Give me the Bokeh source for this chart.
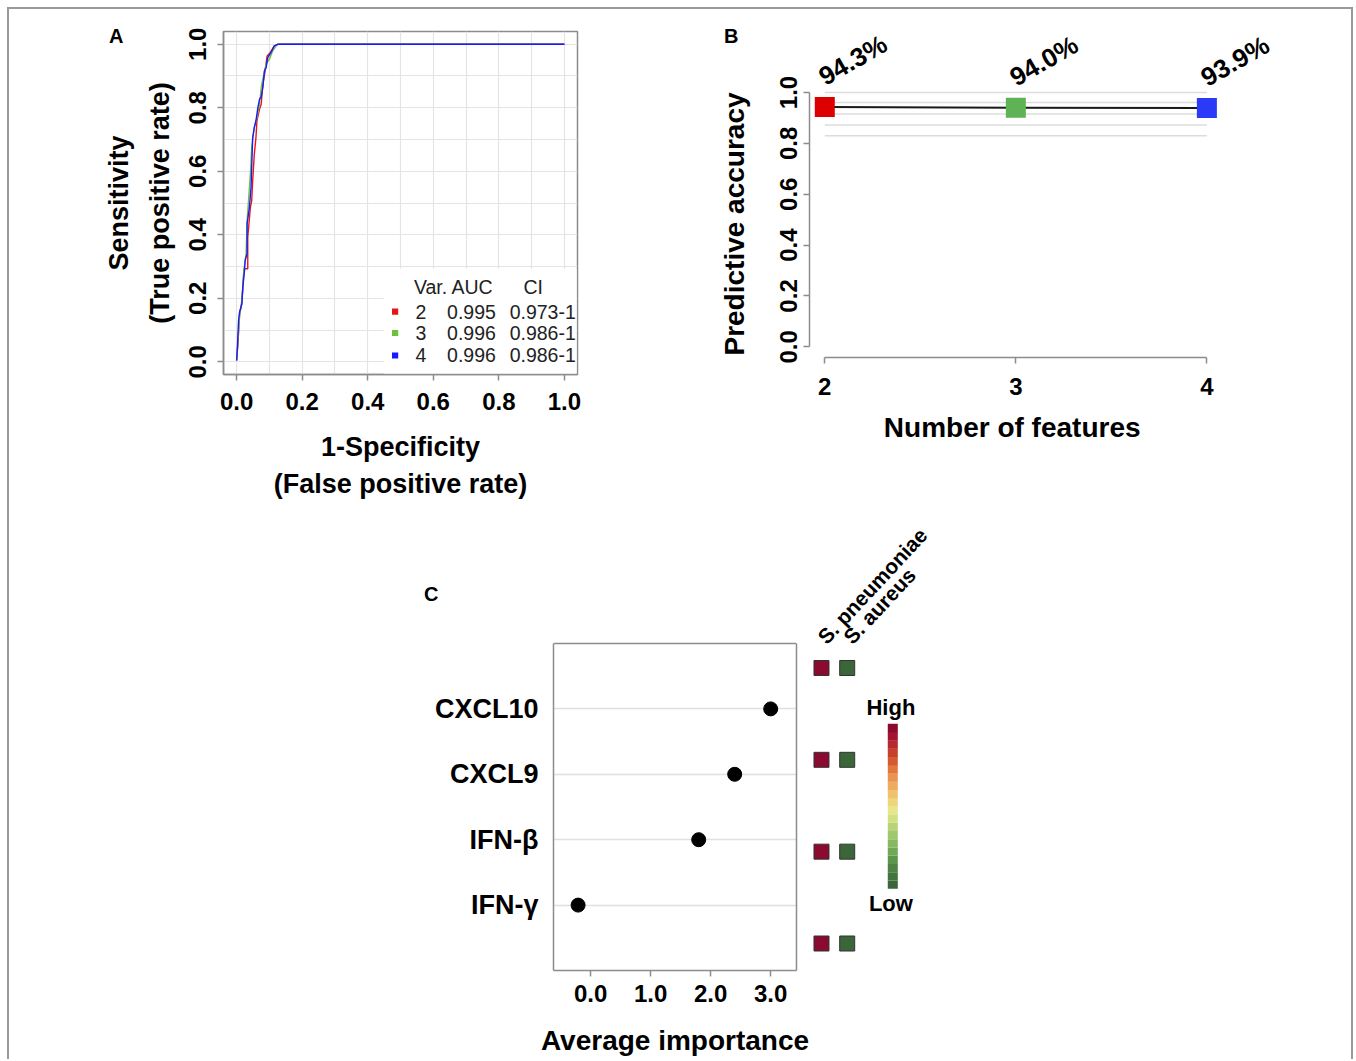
import numpy as np
from bokeh.plotting import figure
from bokeh.models import (Range1d, FixedTicker, Label, BoxAnnotation, ColumnDataSource,
                          Spacer, NumeralTickFormatter, LinearAxis)
from bokeh.layouts import row, column
from bokeh.embed import file_html
from bokeh.resources import INLINE
from bokeh.core.properties import value
from bokeh.transform import linear_cmap

FONT = "Liberation Sans"
NBSP = "\u00a0"

# ---------------- Panel A: ROC curves ----------------
roc_fpr_2 = [0.0, 0.004, 0.009, 0.016, 0.022, 0.024, 0.034, 0.034, 0.042, 0.046, 0.049, 0.054,
             0.059, 0.062, 0.070, 0.075, 0.080, 0.087, 0.093, 0.103, 0.115, 0.128, 1.0]
roc_tpr_2 = [0.004, 0.057, 0.151, 0.186, 0.283, 0.293, 0.293, 0.392, 0.486, 0.507, 0.570, 0.654,
             0.706, 0.759, 0.796, 0.811, 0.874, 0.916, 0.963, 0.974, 0.995, 1.0, 1.0]
roc_fpr_3 = [0.0, 0.004, 0.009, 0.016, 0.022, 0.029, 0.032, 0.037, 0.042, 0.046, 0.054, 0.062,
             0.070, 0.075, 0.083, 0.090, 0.100, 0.110, 0.121, 0.128, 1.0]
roc_tpr_3 = [0.004, 0.067, 0.141, 0.194, 0.288, 0.341, 0.444, 0.518, 0.591, 0.675, 0.738, 0.769,
             0.811, 0.864, 0.906, 0.937, 0.953, 0.979, 0.995, 1.0, 1.0]
roc_fpr_4 = [0.0, 0.002, 0.006, 0.009, 0.016, 0.019, 0.024, 0.026, 0.032, 0.032, 0.039, 0.044,
             0.049, 0.054, 0.059, 0.065, 0.070, 0.075, 0.080, 0.085, 0.090, 0.095, 0.105, 0.115,
             0.126, 1.0]
roc_tpr_4 = [0.004, 0.036, 0.130, 0.156, 0.182, 0.235, 0.287, 0.319, 0.340, 0.434, 0.486, 0.549,
             0.706, 0.738, 0.759, 0.801, 0.827, 0.834, 0.864, 0.916, 0.926, 0.958, 0.974, 0.995,
             1.0, 1.0]
roc_vars = ["2", "3", "4"]
roc_auc = ["0.995", "0.996", "0.996"]
roc_ci = ["0.973-1", "0.986-1", "0.986-1"]
roc_colors = ["#e8141c", "#6cc23a", "#1a1aff"]

# ---------------- Panel B: accuracy ----------------
n_features = [2, 3, 4]
accuracy = [0.943, 0.940, 0.939]
acc_colors = ["#dc0000", "#5fb255", "#2b3af7"]
ref_levels = [1.0, 0.961, 0.915, 0.872, 0.830]

# ---------------- Panel C: importance ----------------
genes = ["CXCL10", "CXCL9", "IFN-β", "IFN-γ"]
importance = [3.0, 2.40, 1.80, -0.21]

# ---------------- Heat strip ----------------
species = ["S. pneumoniae", "S. aureus"]
heat_pneumoniae = [1, 1, 1, 1]
heat_aureus = [0, 0, 0, 0]
heat_palette = ["#3a663a", "#42743f", "#4d8445", "#5c964d", "#70a858", "#86b962", "#9fc86c",
                "#b9d478", "#d2e084", "#e6e68a", "#eed67e", "#f0c270", "#eeac62", "#e89550",
                "#e07840", "#d65a30", "#c8402c", "#b8282c", "#a3142e", "#8b0a30"]

GREY = "#8c8c8c"


def style_axes(p, tick_size="24px", label_size="28px"):
    for ax in p.axis:
        ax.major_label_text_font = FONT
        ax.major_label_text_font_style = "bold"
        ax.major_label_text_font_size = tick_size
        ax.major_label_text_color = "black"
        ax.axis_label_text_font = FONT
        ax.axis_label_text_font_style = "bold"
        ax.axis_label_text_font_size = label_size
        ax.axis_label_text_color = "black"
        ax.minor_tick_line_color = None
        ax.major_tick_in = 0
        ax.major_tick_out = 6
        ax.major_tick_line_color = GREY
        ax.major_tick_line_width = 1.5
        ax.axis_line_color = GREY
        ax.axis_line_width = 1.5


def panel_tag(p, text, yval, standoff):
    ax = LinearAxis(ticker=FixedTicker(ticks=[yval]), major_label_overrides={yval: text},
                    axis_line_color=None, major_tick_line_color=None, minor_tick_line_color=None,
                    major_label_standoff=standoff, major_label_orientation="horizontal",
                    major_label_text_font=FONT, major_label_text_font_style="bold",
                    major_label_text_font_size="20px", major_label_text_color="black")
    p.add_layout(ax, "left")


# ======== Figure A ========
pA = figure(width=700, height=500, x_range=Range1d(-0.04, 1.04), y_range=Range1d(-0.04, 1.04),
            output_backend="svg", toolbar_location=None,
            min_border_left=214, min_border_right=132, min_border_top=22, min_border_bottom=135)
pA.outline_line_color = GREY
pA.outline_line_width = 1.5
major = [0.0, 0.2, 0.4, 0.6, 0.8, 1.0]
minor = [0.1, 0.3, 0.5, 0.7, 0.9]
for ax in (pA.xaxis, pA.yaxis):
    ax.ticker = FixedTicker(ticks=major, minor_ticks=minor)
    ax.formatter = NumeralTickFormatter(format="0.0")
for g in (pA.xgrid, pA.ygrid):
    g.grid_line_color = "#e4e4e4"
    g.grid_line_width = 1.2
    g.minor_grid_line_color = "#e4e4e4"
    g.minor_grid_line_width = 1.2
style_axes(pA, "24px", "27px")
pA.xaxis.axis_label = "1-Specificity\n(False positive rate)"
pA.yaxis.axis_label = "Sensitivity\n(True positive rate)"
pA.xaxis.major_label_standoff = 12
pA.yaxis.major_label_orientation = "parallel"
pA.yaxis.major_label_standoff = 11
pA.xaxis.axis_label_text_line_height = 1.25
pA.yaxis.axis_label_text_line_height = 1.35
pA.xaxis.axis_label_standoff = 19
pA.yaxis.axis_label_standoff = 12

for fx, ty, col in ((roc_fpr_2, roc_tpr_2, roc_colors[0]),
                    (roc_fpr_3, roc_tpr_3, roc_colors[1]),
                    (roc_fpr_4, roc_tpr_4, roc_colors[2])):
    pA.line(fx, ty, line_color=col, line_width=1.4)

# legend block
pA.add_layout(BoxAnnotation(left=0.449, right=1.037, bottom=-0.037, top=0.293,
                            fill_color="white", fill_alpha=1.0, line_color=None))
leg_rows_y = [0.158, 0.091, 0.020]


def leg_text(x, y, t):
    pA.add_layout(Label(x=x, y=y, text=t, text_font=FONT, text_font_size="19.5px",
                        text_align="left", text_baseline="middle", text_color="#222222"))


leg_text(0.541, 0.235, "Var. AUC")
leg_text(0.875, 0.235, "CI")
for i in range(3):
    yy = leg_rows_y[i]
    pA.add_layout(BoxAnnotation(left=0.474, right=0.493, bottom=yy - 0.0095, top=yy + 0.0095,
                                fill_color=roc_colors[i], fill_alpha=1.0, line_color=None))
    leg_text(0.546, yy, roc_vars[i])
    leg_text(0.642, yy, roc_auc[i])
    leg_text(0.833, yy, roc_ci[i])
panel_tag(pA, "A", 1.027, -29)

# ======== Figure B ========
pB = figure(width=642, height=500, x_range=Range1d(1.92, 4.49), y_range=Range1d(-0.042, 1.283),
            output_backend="svg", toolbar_location=None,
            min_border_left=100, min_border_right=51, min_border_top=11, min_border_bottom=152)
pB.outline_line_color = None
pB.xgrid.grid_line_color = None
pB.ygrid.grid_line_color = None
style_axes(pB, "24px", "28px")
pB.xaxis.ticker = FixedTicker(ticks=n_features)
pB.xaxis.bounds = (n_features[0], n_features[-1])
pB.yaxis.ticker = FixedTicker(ticks=major)
pB.yaxis.formatter = NumeralTickFormatter(format="0.0")
pB.yaxis.bounds = (0, 1)
pB.yaxis.major_label_orientation = "parallel"
pB.xaxis.major_label_standoff = 14
pB.xaxis.axis_label_standoff = 14
pB.yaxis.major_label_standoff = 6
pB.yaxis.axis_label_standoff = 28
# trailing no-break spaces shift the centred titles to sit under the 2..4 / 0..1 span
pB.xaxis.axis_label = "Number of features" + NBSP * 11
pB.yaxis.axis_label = "Predictive accuracy" + NBSP * 9

pB.segment(x0=n_features[0], x1=n_features[-1], y0=ref_levels, y1=ref_levels,
           line_color="#dcdcdc", line_width=1.5)
pB.line(n_features, accuracy, line_color="#1a1a1a", line_width=2)
pB.scatter(n_features, accuracy, marker="square", size=20, fill_color=acc_colors, line_color=None)
srcB = ColumnDataSource(dict(x=[f - 0.02 for f in n_features], y=[a + 0.112 for a in accuracy],
                             t=["%.1f%%" % (a * 100) for a in accuracy]))
pB.text(x="x", y="y", text="t", source=srcB, angle=30, angle_units="deg",
        text_font=value(FONT), text_font_style="bold", text_font_size="26px",
        text_align="left", text_baseline="alphabetic", text_color="black")
panel_tag(pB, "B", 1.224, -29)

# ======== Figure C ========
C_TOP = 2
pC = figure(width=503, height=550, x_range=Range1d(-0.62, 3.43), y_range=Range1d(0, 7.018),
            output_backend="svg", toolbar_location=None,
            min_border_left=244, min_border_right=16, min_border_top=C_TOP, min_border_bottom=89)
pC.outline_line_color = None
style_axes(pC, "24px", "28px")
gene_y = list(range(len(genes), 0, -1))
box_top = len(genes) + 1
pC.xaxis.ticker = FixedTicker(ticks=[0, 1, 2, 3])
pC.xaxis.formatter = NumeralTickFormatter(format="0.0")
pC.yaxis.ticker = FixedTicker(ticks=gene_y)
pC.yaxis.bounds = (0, box_top)
pC.yaxis.major_label_overrides = {y: g for y, g in zip(gene_y, genes)}
pC.yaxis.major_tick_out = 0
pC.yaxis.major_label_standoff = 15
pC.yaxis.major_label_text_font_size = "27px"
pC.xaxis.major_label_standoff = 8
pC.xaxis.axis_label = "Average importance"
pC.xaxis.axis_label_standoff = 20
right_ax = LinearAxis(bounds=(0, box_top), axis_line_color=GREY, axis_line_width=1.5,
                      major_tick_line_color=None, minor_tick_line_color=None,
                      major_label_text_font_size="0px", ticker=FixedTicker(ticks=[]))
pC.add_layout(right_ax, "right")
pC.xgrid.grid_line_color = None
pC.ygrid.grid_line_color = "#e0e0e0"
pC.ygrid.grid_line_width = 1.5
pC.ygrid.ticker = FixedTicker(ticks=gene_y)
pC.segment(x0=pC.x_range.start, x1=pC.x_range.end, y0=box_top, y1=box_top,
           line_color=GREY, line_width=1.5)
pC.scatter(importance, gene_y, size=14, fill_color="black", line_color="black")
panel_tag(pC, "C", 5.749, -13)

# ======== Heat strip ========
pH = figure(width=160, height=550, x_range=Range1d(0.650, 6.876), y_range=Range1d(0.706, 5.704),
            output_backend="svg", toolbar_location=None,
            min_border_left=0, min_border_right=0, min_border_top=C_TOP, min_border_bottom=89)
pH.axis.visible = False
pH.grid.grid_line_color = None
pH.outline_line_color = None
heat_x, heat_y, heat_v = [], [], []
for ci, vals in enumerate((heat_pneumoniae, heat_aureus)):
    for yy, v in zip(gene_y, vals):
        heat_x.append(ci + 1)
        heat_y.append(yy)
        heat_v.append(v)
srcH = ColumnDataSource(dict(x=heat_x, y=heat_y, v=heat_v))
pH.scatter("x", "y", source=srcH, marker="square", size=15,
           fill_color=linear_cmap("v", heat_palette, 0, 1), line_color="#333333", line_width=1)
pH.text(x=[1, 2], y=[gene_y[0] + 0.3] * 2, text=species, angle=47, angle_units="deg",
        text_font=value(FONT), text_font_style="bold", text_font_size="21px",
        text_align="left", text_baseline="middle", text_color="black")
# colour key
n_c = len(heat_palette)
cb_bottom, cb_top = 1.596, 3.392
band = (cb_top - cb_bottom) / n_c
pH.rect(x=[3.774] * n_c, y=[cb_bottom + band * (i + 0.5) for i in range(n_c)], width=0.39,
        height=band * 1.02, fill_color=heat_palette, line_color=None)
for t, yy in (("High", 3.57), ("Low", 1.436)):
    pH.add_layout(Label(x=3.70, y=yy, text=t, text_font=FONT, text_font_style="bold",
                        text_font_size="22px", text_align="center", text_baseline="middle",
                        text_color="black"))

layout = column(row(pA, column(pB)),
                row(Spacer(width=300, height=550), column(pC), column(pH)),
                margin=(7, 0, 0, 7),
                styles={"border-top": "2px solid #9a9a9a", "border-left": "2px solid #9a9a9a",
                        "border-right": "2px solid #9a9a9a"})

open("out.html", "w").write(file_html(layout, INLINE))
